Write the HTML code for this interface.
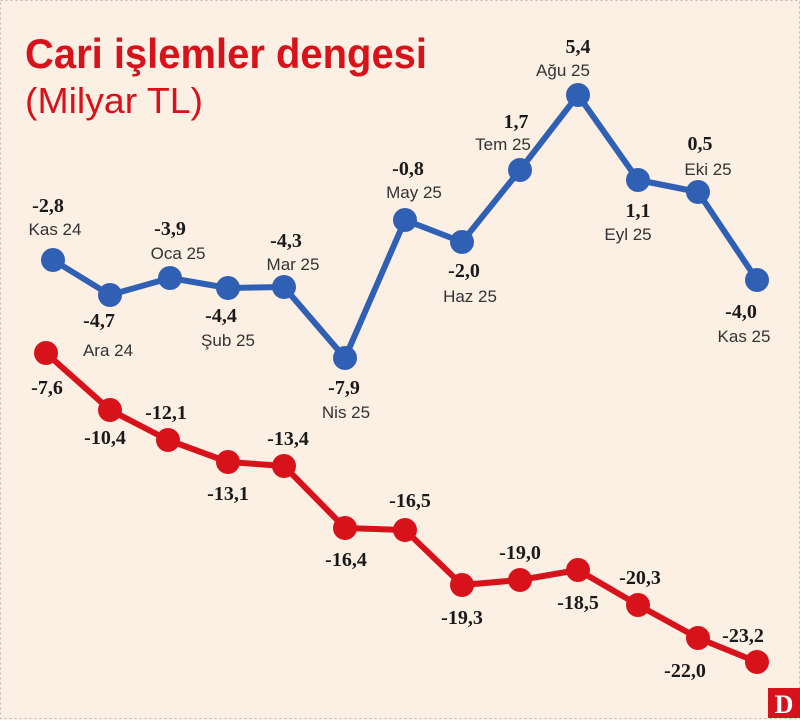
<!DOCTYPE html>
<html><head><meta charset="utf-8"><style>
body{margin:0;background:#fcefe4;}
svg{display:block}
.v{font-family:"Liberation Serif",serif;font-weight:bold;font-size:20px;fill:#1a1a1a}
.m{font-family:"Liberation Sans",sans-serif;font-size:17px;fill:#333}
</style></head><body>
<svg width="800" height="720" viewBox="0 0 800 720">
<rect width="800" height="720" fill="#fcefe4"/>
<rect x="0.5" y="0.5" width="799" height="718" fill="none" stroke="#bbb" stroke-dasharray="2,3"/>
<text x="25" y="68" font-family="Liberation Sans,sans-serif" font-weight="bold" font-size="42" fill="#d7121a" textLength="402" lengthAdjust="spacingAndGlyphs">Cari işlemler dengesi</text>
<text x="25" y="113" font-family="Liberation Sans,sans-serif" font-size="36" fill="#d7121a" textLength="178" lengthAdjust="spacingAndGlyphs">(Milyar TL)</text>
<g stroke="#3060b4" stroke-width="6" fill="none" stroke-linejoin="round">
<polyline points="53,260 110,295 170,278 228,288 284,287 345,358 405,220 462,242 520,170 578,95 638,180 698,192 757,280"/>
</g>
<g fill="#3060b4">
<circle cx="53" cy="260" r="12"/><circle cx="110" cy="295" r="12"/><circle cx="170" cy="278" r="12"/><circle cx="228" cy="288" r="12"/><circle cx="284" cy="287" r="12"/><circle cx="345" cy="358" r="12"/><circle cx="405" cy="220" r="12"/><circle cx="462" cy="242" r="12"/><circle cx="520" cy="170" r="12"/><circle cx="578" cy="95" r="12"/><circle cx="638" cy="180" r="12"/><circle cx="698" cy="192" r="12"/><circle cx="757" cy="280" r="12"/>
</g>
<g stroke="#d7121a" stroke-width="6" fill="none" stroke-linejoin="round">
<polyline points="46,353 110,410 168,440 228,462 284,466 345,528 405,530 462,585 520,580 578,570 638,605 698,638 757,662"/>
</g>
<g fill="#d7121a">
<circle cx="46" cy="353" r="12"/><circle cx="110" cy="410" r="12"/><circle cx="168" cy="440" r="12"/><circle cx="228" cy="462" r="12"/><circle cx="284" cy="466" r="12"/><circle cx="345" cy="528" r="12"/><circle cx="405" cy="530" r="12"/><circle cx="462" cy="585" r="12"/><circle cx="520" cy="580" r="12"/><circle cx="578" cy="570" r="12"/><circle cx="638" cy="605" r="12"/><circle cx="698" cy="638" r="12"/><circle cx="757" cy="662" r="12"/>
</g>
<g class="v" text-anchor="middle">
<text x="48" y="212">-2,8</text><text x="99" y="327">-4,7</text><text x="170" y="235">-3,9</text><text x="221" y="322">-4,4</text><text x="286" y="247">-4,3</text><text x="344" y="394">-7,9</text><text x="408" y="175">-0,8</text><text x="464" y="277">-2,0</text><text x="516" y="128">1,7</text><text x="578" y="53">5,4</text><text x="638" y="217">1,1</text><text x="700" y="150">0,5</text><text x="741" y="318">-4,0</text>
<text x="47" y="394">-7,6</text><text x="105" y="444">-10,4</text><text x="166" y="419">-12,1</text><text x="228" y="500">-13,1</text><text x="288" y="445">-13,4</text><text x="346" y="566">-16,4</text><text x="410" y="507">-16,5</text><text x="462" y="624">-19,3</text><text x="520" y="559">-19,0</text><text x="578" y="609">-18,5</text><text x="640" y="584">-20,3</text><text x="685" y="677">-22,0</text><text x="743" y="642">-23,2</text>
</g>
<g class="m" text-anchor="middle">
<text x="55" y="235">Kas 24</text><text x="108" y="356">Ara 24</text><text x="178" y="259">Oca 25</text><text x="228" y="346">Şub 25</text><text x="293" y="270">Mar 25</text><text x="346" y="418">Nis 25</text><text x="414" y="198">May 25</text><text x="470" y="302">Haz 25</text><text x="503" y="150">Tem 25</text><text x="563" y="76">Ağu 25</text><text x="628" y="240">Eyl 25</text><text x="708" y="175">Eki 25</text><text x="744" y="342">Kas 25</text>
</g>
<rect x="768" y="688" width="32" height="30" fill="#d7121a"/>
<text x="784" y="713" text-anchor="middle" font-family="Liberation Serif,serif" font-weight="bold" font-size="26" fill="#fff">D</text>
</svg>
</body></html>
